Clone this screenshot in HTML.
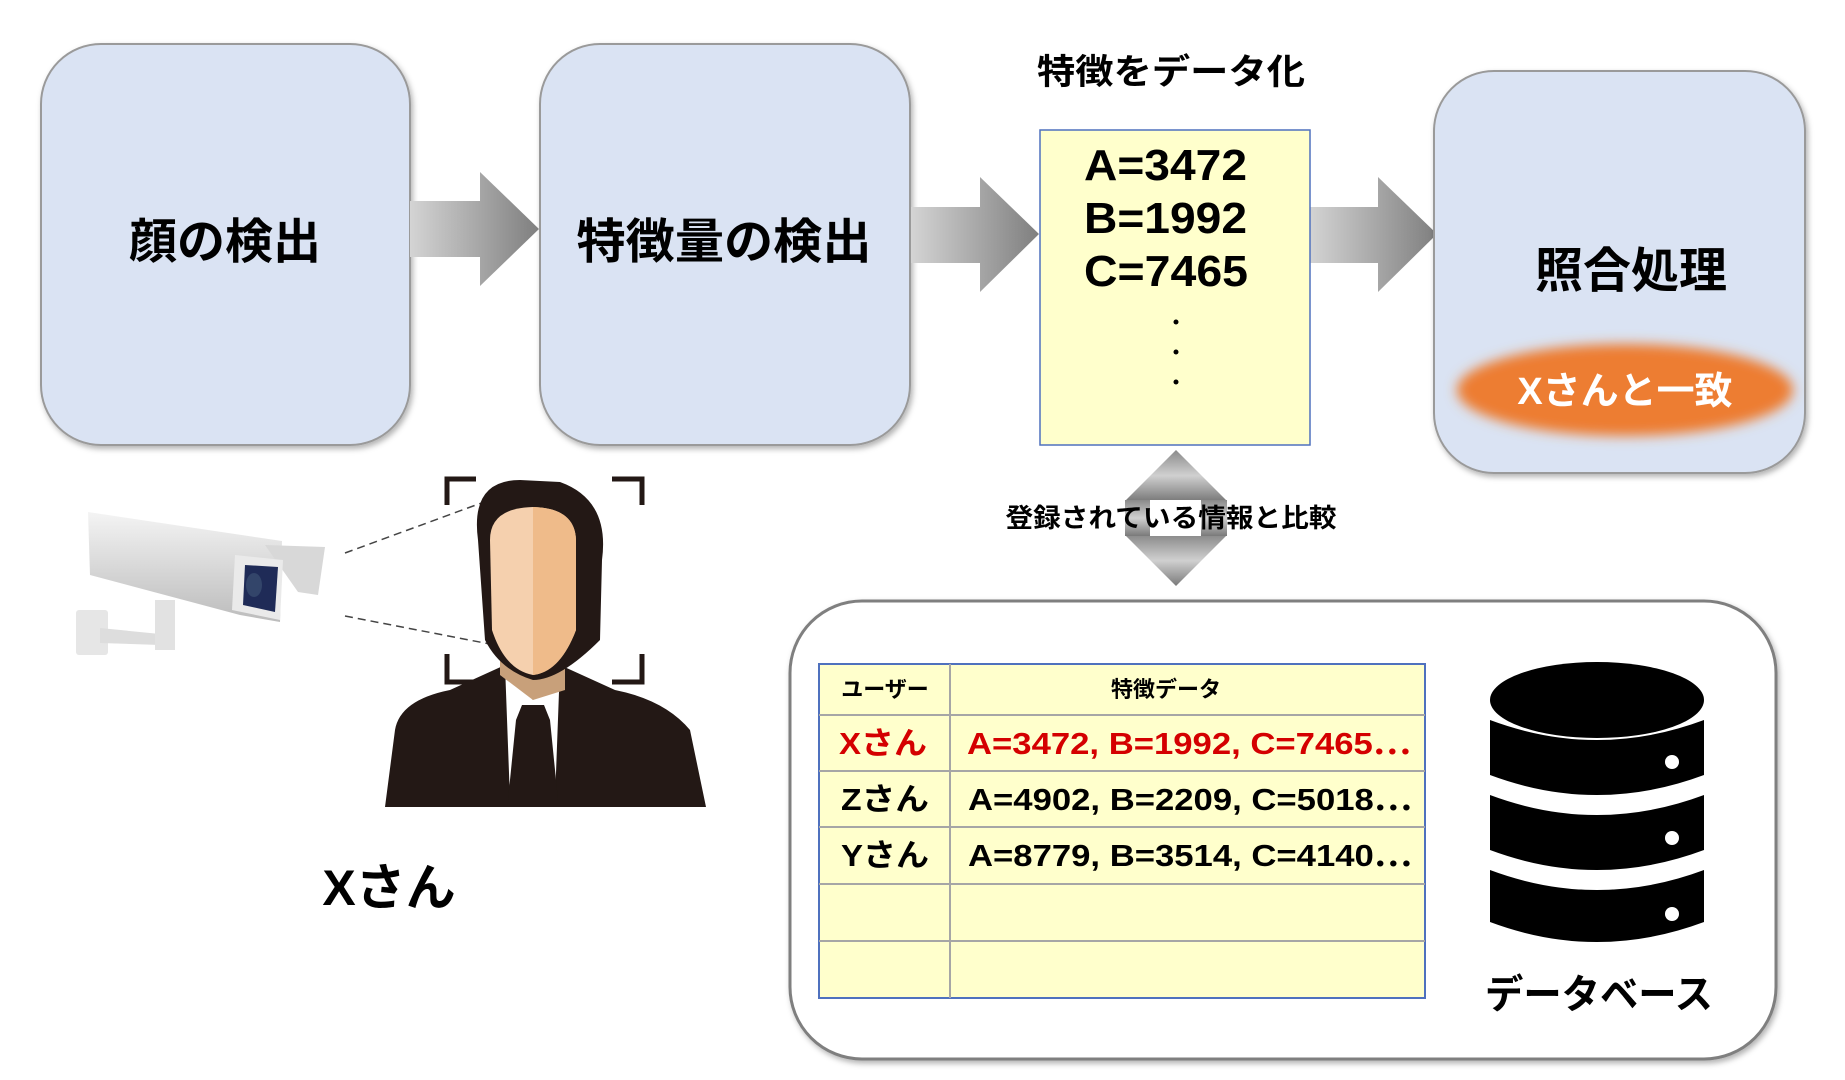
<!DOCTYPE html>
<html><head><meta charset="utf-8"><style>
html,body{margin:0;padding:0;background:#fff}
svg{display:block}
text{font-family:"Liberation Sans","Noto Sans CJK JP",sans-serif}
</style></head><body>
<svg width="1845" height="1080" viewBox="0 0 1845 1080" xmlns="http://www.w3.org/2000/svg">
<defs>
<linearGradient id="ag" x1="0" x2="1" y1="0" y2="0"><stop offset="0" stop-color="#d4d4d4"/><stop offset="1" stop-color="#7f7f7f"/></linearGradient>
<linearGradient id="vg" x1="0" x2="0" y1="0" y2="1"><stop offset="0" stop-color="#8a8a8a"/><stop offset="0.5" stop-color="#d0d0d0"/><stop offset="1" stop-color="#7a7a7a"/></linearGradient>
<filter id="sh" x="-10%" y="-10%" width="120%" height="120%"><feDropShadow dx="2" dy="3" stdDeviation="3" flood-color="#000" flood-opacity="0.3"/></filter>
<filter id="blur" x="-20%" y="-40%" width="140%" height="180%"><feGaussianBlur stdDeviation="6"/></filter>
<linearGradient id="cam" x1="0" x2="0" y1="0" y2="1"><stop offset="0" stop-color="#f4f4f4"/><stop offset="1" stop-color="#bcbcbc"/></linearGradient>
</defs>

<rect x="41" y="44" width="369" height="401" rx="60" fill="#dae3f3" stroke="#9a9a9a" stroke-width="2" filter="url(#sh)"/>
<text x="225" y="258" font-size="48" font-weight="bold" text-anchor="middle">顔の検出</text>
<rect x="540" y="44" width="370" height="401" rx="60" fill="#dae3f3" stroke="#9a9a9a" stroke-width="2" filter="url(#sh)"/>
<text x="724" y="258" font-size="48" font-weight="bold" text-anchor="middle" textLength="295" lengthAdjust="spacingAndGlyphs">特徴量の検出</text>

<polygon points="410,201 480,201 480,172 539,229 480,286 480,257 410,257" fill="url(#ag)"/>
<polygon points="911,207 980,207 980,177 1039,234 980,292 980,263 911,263" fill="url(#ag)"/>
<polygon points="1309,207 1378,207 1378,177 1437,234 1378,292 1378,263 1309,263" fill="url(#ag)"/>

<text x="1171" y="84" font-size="35" font-weight="bold" text-anchor="middle" textLength="268" lengthAdjust="spacingAndGlyphs">特徴をデータ化</text>
<rect x="1040" y="130" width="270" height="315" fill="#ffffcc" stroke="#4f71be" stroke-width="1.5"/>
<text x="1084" y="180" font-size="44" font-weight="bold" textLength="163" lengthAdjust="spacingAndGlyphs">A=3472</text>
<text x="1084" y="233" font-size="44" font-weight="bold" textLength="163" lengthAdjust="spacingAndGlyphs">B=1992</text>
<text x="1084" y="286" font-size="44" font-weight="bold" textLength="164" lengthAdjust="spacingAndGlyphs">C=7465</text>
<circle cx="1176" cy="322" r="2.5" fill="#000"/>
<circle cx="1176" cy="352" r="2.5" fill="#000"/>
<circle cx="1176" cy="382" r="2.5" fill="#000"/>

<rect x="1441" y="71" width="371" height="402" rx="60" fill="#dae3f3" stroke="#9a9a9a" stroke-width="2" filter="url(#sh)" transform="translate(-7,0)"/>
<text x="1631" y="287" font-size="48" font-weight="bold" text-anchor="middle">照合処理</text>
<ellipse cx="1625" cy="390" rx="168" ry="46" fill="#ed7d31" filter="url(#blur)"/>
<text x="1625" y="404" font-size="38" font-weight="bold" fill="#fff" text-anchor="middle">Xさんと一致</text>

<polygon points="1176,450 1227,501 1125,501" fill="url(#vg)"/>
<polygon points="1125,535 1227,535 1176,586" fill="url(#vg)"/>
<rect x="1125" y="500" width="102" height="36" fill="url(#vg)"/>
<rect x="1150" y="500" width="51" height="36" fill="#fff"/>
<text x="1171" y="527" font-size="26" font-weight="bold" text-anchor="middle" textLength="331" lengthAdjust="spacingAndGlyphs">登録されている情報と比較</text>

<rect x="790" y="601" width="986" height="458" rx="72" fill="#fff" stroke="#7f7f7f" stroke-width="3" filter="url(#sh)"/>
<g stroke="#a6a6a6" stroke-width="2">
<rect x="819" y="664" width="606" height="334" fill="#ffffcc" stroke="#4f71be"/>
<line x1="950" y1="664" x2="950" y2="998"/>
<line x1="819" y1="715" x2="1425" y2="715"/>
<line x1="819" y1="771" x2="1425" y2="771"/>
<line x1="819" y1="827" x2="1425" y2="827"/>
<line x1="819" y1="884" x2="1425" y2="884"/>
<line x1="819" y1="941" x2="1425" y2="941"/>
</g>
<text x="885" y="697" font-size="22" font-weight="bold" text-anchor="middle">ユーザー</text>
<text x="1166" y="697" font-size="22" font-weight="bold" text-anchor="middle">特徴データ</text>
<g font-size="31" font-weight="bold">
<text x="839" y="754" fill="#d40000" textLength="88" lengthAdjust="spacingAndGlyphs">Xさん</text>
<text x="967" y="754" fill="#d40000" textLength="444" lengthAdjust="spacingAndGlyphs">A=3472, B=1992, C=7465⋯</text>
<text x="841" y="810" textLength="88" lengthAdjust="spacingAndGlyphs">Zさん</text>
<text x="968" y="810" textLength="444" lengthAdjust="spacingAndGlyphs">A=4902, B=2209, C=5018⋯</text>
<text x="841" y="866" textLength="88" lengthAdjust="spacingAndGlyphs">Yさん</text>
<text x="968" y="866" textLength="444" lengthAdjust="spacingAndGlyphs">A=8779, B=3514, C=4140⋯</text>
</g>
<g transform="translate(-7,0)">
<g fill="#000">
<path d="M1497,720 Q1604,760 1711,720 L1711,775 Q1604,815 1497,775Z"/>
<path d="M1497,795 Q1604,835 1711,795 L1711,850 Q1604,890 1497,850Z"/>
<path d="M1497,870 Q1604,910 1711,870 L1711,922 Q1604,962 1497,922Z"/>
<ellipse cx="1604" cy="700" rx="107" ry="38"/>
</g>
<g fill="#fff"><circle cx="1679" cy="762" r="7"/><circle cx="1679" cy="838" r="7"/><circle cx="1679" cy="914" r="7"/></g>
</g>
<text x="1599" y="1008" font-size="40" font-weight="bold" text-anchor="middle" textLength="228" lengthAdjust="spacingAndGlyphs">データベース</text>

<g>
<rect x="76" y="610" width="32" height="45" rx="3" fill="#e6e6e6"/>
<polygon points="100,628 160,634 160,645 100,643" fill="#ddd"/>
<rect x="155" y="600" width="20" height="50" fill="#e2e2e2"/>
<polygon points="88,512 282,541 280,622 240,615 90,575" fill="url(#cam)"/>
<polygon points="265,545 325,547 318,595 298,592" fill="#d8d8d8"/>
<polygon points="235,555 283,560 280,620 232,610" fill="#eaeaea"/>
<polygon points="245,565 278,567 275,612 243,605" fill="#1f2b57"/>
<ellipse cx="254" cy="585" rx="8" ry="12" fill="#33456a"/>
</g>
<line x1="345" y1="553" x2="495" y2="498" stroke="#444" stroke-width="1.5" stroke-dasharray="8,5"/>
<line x1="345" y1="616" x2="495" y2="645" stroke="#444" stroke-width="1.5" stroke-dasharray="8,5"/>
<g>
<path d="M385,807 L395,730 Q400,700 450,690 L505,665 L560,665 L615,690 Q665,700 690,730 L706,807Z" fill="#231815"/>
<polygon points="505,665 533,700 560,665 555,800 510,800" fill="#fff"/>
<polygon points="522,705 544,705 550,720 558,800 508,800 516,720" fill="#231815"/>
<path d="M500,640 L565,640 L565,690 L533,700 L500,675Z" fill="#c8a07a"/>
<path d="M478,540 Q470,480 520,480 L560,482 Q610,500 602,560 L600,640 Q560,680 533,680 Q500,670 485,640Z" fill="#231815"/>
<path d="M490,540 Q490,508 533,507 Q575,508 576,540 L576,630 Q560,672 533,675 Q505,670 492,630Z" fill="#f5d0ae"/>
<path d="M533,507 Q575,508 576,540 L576,630 Q560,672 533,675Z" fill="#efbb8a"/>
</g>
<g fill="none" stroke="#231815" stroke-width="5">
<polyline points="447,505 447,479 476,479"/>
<polyline points="612,479 642,479 642,505"/>
<polyline points="447,654 447,682 476,682"/>
<polyline points="612,682 642,682 642,654"/>
</g>
<text x="389" y="905" font-size="50" font-weight="bold" text-anchor="middle">Xさん</text>
</svg>
</body></html>
